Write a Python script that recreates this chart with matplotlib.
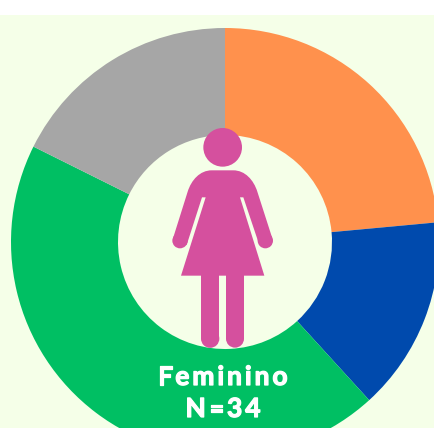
import matplotlib
matplotlib.use('Agg')
import matplotlib.pyplot as plt
from matplotlib.patches import Circle, Rectangle, PathPatch
from matplotlib.path import Path
import matplotlib.patheffects as pe

# data
categories = ['laranja', 'azul', 'verde', 'cinza']
counts = [8, 5, 15, 6]
colors = ['#FF914D', '#004AAD', '#00BF63', '#A6A6A6']
label_lines = ['Feminino', 'N=34']

bg = '#F5FFE8'
pink = '#D5509E'
W, H = 435, 428
TOP = 15  # white strip above the panel

fig = plt.figure(figsize=(W / 100, H / 100), dpi=100, facecolor='white')
ax = fig.add_axes([0, 0, 1, (H - TOP) / H])
ax.set_facecolor(bg)

# donut, center and radius in pixels
cx, cy, R = 225, H - 242, 214
ax.pie(counts, colors=colors, startangle=90, counterclock=False, center=(cx, cy), radius=R,
       frame=True, wedgeprops=dict(width=107, edgecolor='none', linewidth=0))
ax.set_xlim(0, W)
ax.set_ylim(0, H - TOP)
ax.set_aspect('equal')
ax.set_xticks([])
ax.set_yticks([])
for s in ax.spines.values():
    s.set_visible(False)


# icon outline was read on a 3x crop starting at (150, 110)
def pt(x, y):
    return (150 + x / 3, H - (110 + y / 3))


ax.add_patch(Circle(pt(218, 112), 58 / 3, color=pink, lw=0, zorder=5))

body = [
    (Path.MOVETO, (185, 181)), (Path.LINETO, (250, 181)),
    (Path.CURVE4, (285, 181)), (Path.CURVE4, (311, 210)), (Path.CURVE4, (322, 245)),
    (Path.LINETO, (367, 385)),
    (Path.LINETO, (328, 405)),
    (Path.LINETO, (280, 262)), (Path.LINETO, (270, 262)),
    (Path.LINETO, (343, 497)), (Path.LINETO, (93, 497)),
    (Path.LINETO, (167, 262)), (Path.LINETO, (156, 262)),
    (Path.LINETO, (110, 405)),
    (Path.LINETO, (69, 385)),
    (Path.LINETO, (113, 245)),
    (Path.CURVE4, (124, 210)), (Path.CURVE4, (150, 181)), (Path.CURVE4, (185, 181)),
    (Path.CLOSEPOLY, (185, 181)),
]
ax.add_patch(PathPatch(Path([pt(*p) for c, p in body], [c for c, p in body]),
                       facecolor=pink, lw=0, zorder=5))
# hands
ax.add_patch(Circle(pt(90, 392), 23 / 3, color=pink, lw=0, zorder=5))
ax.add_patch(Circle(pt(346, 392), 23 / 3, color=pink, lw=0, zorder=5))
# legs
for x0, x1 in [(153, 208), (228, 282)]:
    ax.add_patch(Rectangle(pt(x0, 686), (x1 - x0) / 3, (686 - 495) / 3, color=pink, lw=0, zorder=5))
    ax.add_patch(Circle(pt((x0 + x1) / 2, 686), (x1 - x0) / 6, color=pink, lw=0, zorder=5))


# letter spaced text, matplotlib has no tracking option
def spaced(s, xc, y, size, gap):
    r = fig.canvas.get_renderer()
    def width(part):
        t = ax.text(0, 0, part, fontsize=size, family='Lato', weight='bold')
        w = t.get_window_extent(r).width
        t.remove()
        return w
    total = width(s) + gap * (len(s) - 1)
    for i, ch in enumerate(s):
        # start of a letter = full prefix minus the letter itself
        x = xc - total / 2 + width(s[:i + 1]) - width(ch) + gap * i
        ax.text(x, y, ch, fontsize=size, family='Lato', weight='bold', color='white',
                ha='left', va='baseline', zorder=6,
                path_effects=[pe.withStroke(linewidth=0.9, foreground='white')])


spaced(label_lines[0], 222.5, H - 385, 19, 3.0)
spaced(label_lines[1], 223, H - 417, 19, 3.0)

fig.savefig('out.png', dpi=100, facecolor='white')
